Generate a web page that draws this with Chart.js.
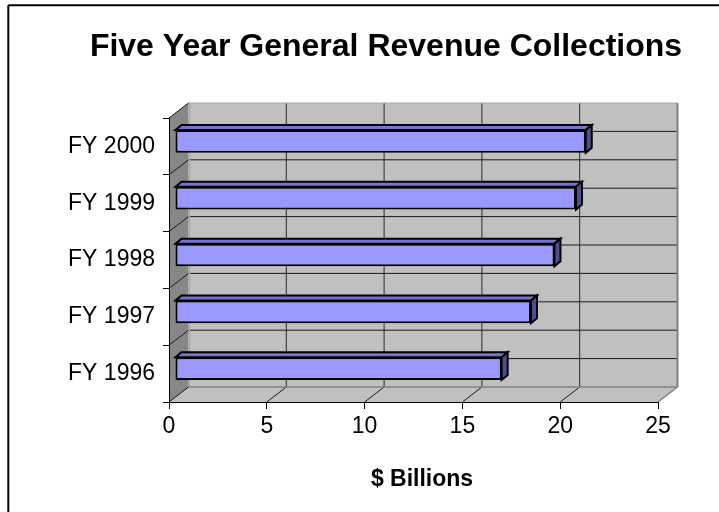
<!DOCTYPE html>
<html>
<head>
<meta charset="utf-8">
<title>Five Year General Revenue Collections</title>
<script src="https://cdn.jsdelivr.net/npm/chart.js@4.4.1/dist/chart.umd.min.js"></script>
<style>
  html, body { margin: 0; padding: 0; background: #fff; }
  canvas { display: block; }
</style>
</head>
<body>
<canvas id="revenue" width="719" height="512"></canvas>
<script>
const fiscalYears = ["FY 1996", "FY 1997", "FY 1998", "FY 1999", "FY 2000"];
const revenueBillions = [16.7, 18.2, 19.4, 20.5, 21.0];
const valueTicks = [0, 5, 10, 15, 20, 25];

const chartTitle = "Five Year General Revenue Collections";
const axisTitle = "$ Billions";

// depth of the box (walls/floor) and of the bars
const WALL_DX = 19.5, WALL_DY = -15;
const BAR_DX = 6, BAR_DY = -5;

const FONT = '"Liberation Sans", Arial, sans-serif';

function poly(ctx, pts, fill, stroke, width) {
  ctx.beginPath();
  ctx.moveTo(pts[0][0], pts[0][1]);
  for (let i = 1; i < pts.length; i++) ctx.lineTo(pts[i][0], pts[i][1]);
  ctx.closePath();
  if (fill) { ctx.fillStyle = fill; ctx.fill(); }
  if (stroke) { ctx.strokeStyle = stroke; ctx.lineWidth = width || 1; ctx.stroke(); }
}

function line(ctx, x1, y1, x2, y2, color, width) {
  ctx.beginPath();
  ctx.moveTo(x1, y1);
  ctx.lineTo(x2, y2);
  ctx.strokeStyle = color;
  ctx.lineWidth = width || 1;
  ctx.stroke();
}

const box3d = {
  id: "box3d",
  beforeDraw(chart) {
    const { ctx, chartArea: a, scales } = chart;
    const xs = scales.x, ys = scales.y;
    const L = a.left, R = a.right, T = a.top, B = a.bottom;
    const dx = WALL_DX, dy = WALL_DY;
    ctx.save();

    // frame (top and left edges only show)
    line(ctx, 8.3, 5.3, 719, 5.3, "#000", 2);
    line(ctx, 8.3, 5.3, 8.3, 512, "#000", 2);

    // back wall, floor, side wall
    ctx.fillStyle = "#c0c0c0";
    ctx.fillRect(L + dx, T + dy, R - L, B - T);
    poly(ctx, [[L, B], [R, B], [R + dx, B + dy], [L + dx, B + dy]], "#c0c0c0");
    poly(ctx, [[L, T], [L + dx, T + dy], [L + dx, B + dy], [L, B]], "#878787");

    // horizontal lines on the back wall: category centres and boundaries
    const n = fiscalYears.length;
    for (let i = 0; i < n; i++) {
      const c = ys.getPixelForValue(i);
      line(ctx, L + dx, c + dy, R + dx, c + dy, "#1a1a1a", 1);
      if (i < n - 1) {
        const b = (c + ys.getPixelForValue(i + 1)) / 2;
        line(ctx, L + dx, b + dy, R + dx, b + dy, "#1a1a1a", 1);
        line(ctx, L, b, L + dx, b + dy, "#1a1a1a", 1);
      }
    }

    // value gridlines on back wall and floor
    valueTicks.slice(1, -1).forEach(v => {
      const px = xs.getPixelForValue(v);
      line(ctx, px + dx, T + dy, px + dx, B + dy, "#2a2a2a", 1);
      line(ctx, px, B, px + dx, B + dy, "#1a1a1a", 1);
    });

    // box edges
    line(ctx, L + dx, T + dy, R + dx, T + dy, "#a8a8a8", 1);
    line(ctx, L + dx + 1, T + dy, L + dx + 1, B + dy, "#a8a8a8", 1.5);
    line(ctx, R + dx, T + dy, R + dx, B + dy, "#808080", 2);
    line(ctx, L + dx, B + dy, R + dx, B + dy, "#808080", 1.5);
    line(ctx, R, B, R + dx, B + dy, "#808080", 1.5);
    line(ctx, L, T, L + dx, T + dy, "#111", 1);
    line(ctx, L, B, L + dx, B + dy, "#111", 1);
    ctx.restore();
  },
  beforeDatasetsDraw(chart) {
    chart.ctx.save();
    chart.ctx.translate(BAR_DX, BAR_DY);
  },
  afterDatasetsDraw(chart) {
    const ctx = chart.ctx;
    const meta = chart.getDatasetMeta(0);
    ctx.lineJoin = "miter";
    meta.data.forEach(bar => {
      const p = bar.getProps(["x", "y", "base", "height"], true);
      const top = p.y - p.height / 2, bottom = p.y + p.height / 2;
      poly(ctx, [[p.base, top], [p.x, top], [p.x + BAR_DX, top + BAR_DY], [p.base + BAR_DX, top + BAR_DY]],
        "#7474d2", "#000", 2);
      poly(ctx, [[p.x, top], [p.x + BAR_DX, top + BAR_DY], [p.x + BAR_DX, bottom + BAR_DY], [p.x, bottom]],
        "#4e4e8c", "#000", 2);
    });
    ctx.restore();
  },
  afterDraw(chart) {
    const ctx = chart.ctx;
    ctx.save();
    ctx.fillStyle = "#000";
    ctx.textAlign = "center";
    ctx.textBaseline = "alphabetic";
    ctx.font = "bold 32px " + FONT;
    ctx.fillText(chartTitle, 386, 56);
    ctx.font = "bold 23px " + FONT;
    ctx.fillText(axisTitle, 422, 486);
    ctx.restore();
  }
};

new Chart(document.getElementById("revenue"), {
  type: "bar",
  data: {
    labels: fiscalYears,
    datasets: [{
      data: revenueBillions,
      backgroundColor: "#9999ff",
      borderColor: "#000",
      borderWidth: 2,
      borderSkipped: false,
      categoryPercentage: 1,
      barPercentage: 0.4,
      clip: false
    }]
  },
  options: {
    indexAxis: "y",
    responsive: false,
    animation: false,
    devicePixelRatio: 1,
    layout: { padding: { top: 118, left: 10, right: 61, bottom: 70 } },
    plugins: {
      legend: { display: false },
      tooltip: { enabled: false }
    },
    scales: {
      x: {
        min: valueTicks[0],
        max: valueTicks[valueTicks.length - 1],
        afterFit: s => { s.height = 40; },
        ticks: {
          stepSize: valueTicks[1] - valueTicks[0],
          color: "#000",
          padding: 4,
          font: { family: FONT, size: 23 }
        },
        grid: { drawOnChartArea: false, tickLength: 7, color: "#000" },
        border: { display: true, color: "#000", width: 1 }
      },
      y: {
        reverse: true,
        afterFit: s => { s.width = 159; },
        ticks: {
          color: "#000",
          padding: 8,
          font: { family: FONT, size: 23 }
        },
        grid: { drawOnChartArea: false, offset: true, tickLength: 6, color: "#000" },
        border: { display: true, color: "#000", width: 1 }
      }
    }
  },
  plugins: [box3d]
});
</script>
</body>
</html>
